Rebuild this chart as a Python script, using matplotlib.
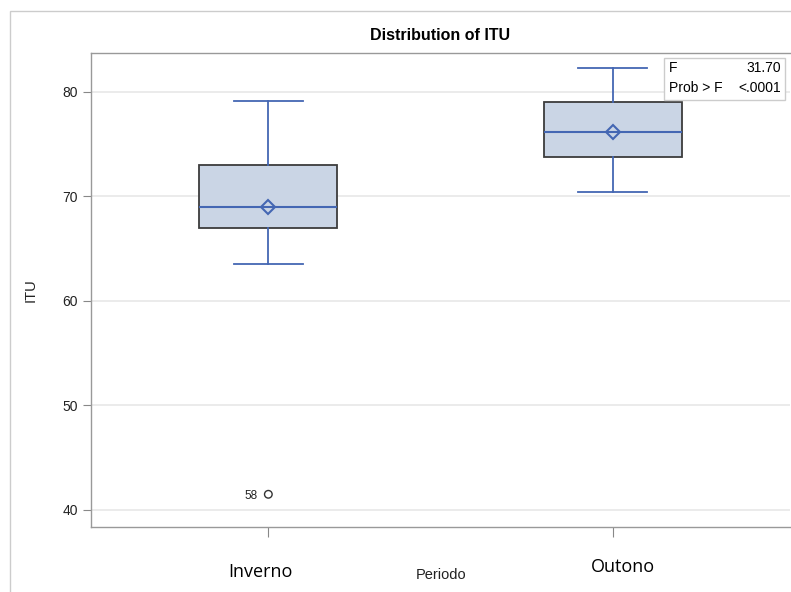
import matplotlib
matplotlib.use("Agg")
import matplotlib.pyplot as plt
from matplotlib.patches import Rectangle

plt.rcParams["font.family"] = ["Liberation Sans", "DejaVu Sans"]

categories = ["Inverno", "Outono"]
whisker_low = [63.5, 70.4]
q1 = [67.0, 73.8]
median = [69.0, 76.2]
mean = [69.0, 76.2]
q3 = [73.0, 79.05]
whisker_high = [79.1, 82.3]
outlier_x = [0]
outlier_y = [41.5]
outlier_labels = ["58"]
yticks = [40, 50, 60, 70, 80]

W, H = 791, 592
fig = plt.figure(figsize=(W/100, H/100), dpi=100)
ax = fig.add_axes([91/W, 1-527/H, (790-91)/W, (527-53)/H])

blue = "#4467b3"
fill = "#cad5e5"
edge = "#3c3c3c"
bw = 0.4
cw = 0.2

stats = []
for i in range(len(categories)):
    stats.append(dict(med=median[i], q1=q1[i], q3=q3[i], whislo=whisker_low[i],
                      whishi=whisker_high[i], mean=mean[i], fliers=[], label=categories[i]))
ax.bxp(stats, positions=range(len(categories)), widths=bw, patch_artist=True,
       showmeans=True, showfliers=False,
       boxprops=dict(facecolor=fill, edgecolor=edge, linewidth=1.3),
       medianprops=dict(color=blue, linewidth=1.5),
       whiskerprops=dict(color=blue, linewidth=1.3),
       capprops=dict(color=blue, linewidth=1.3),
       capwidths=cw,
       meanprops=dict(marker="D", markerfacecolor="none", markeredgecolor=blue,
                      markersize=7, markeredgewidth=1.5),
       zorder=3)

ax.scatter(outlier_x, outlier_y, s=30, facecolors="none", edgecolors="#333333",
           linewidths=1.0, zorder=4)
for x, y, lab in zip(outlier_x, outlier_y, outlier_labels):
    ax.text(x - 0.03, y, lab, ha="right", va="center_baseline", fontsize=8.5, color="#222222")

ax.set_xlim(-0.515, 1.515)
ax.set_ylim(38.37, 83.73)
ax.set_yticks(yticks)
ax.set_yticklabels([str(t) for t in yticks], fontsize=10)
ax.set_xticks(range(len(categories)))
ax.set_xticklabels([])
ax.tick_params(axis="both", colors="#888888", labelcolor="#222222", length=6)
ax.tick_params(axis="x", length=7)
ax.yaxis.grid(True, color="#e8e8e8", linewidth=1.2, zorder=0)
ax.set_axisbelow(True)
for s in ax.spines.values():
    s.set_color("#999999")
    s.set_linewidth(1.0)
ax.spines["right"].set_visible(False)

ax.set_ylabel("ITU", fontsize=10.5, color="#222222", labelpad=18)
ax.set_title("Distribution of ITU", fontsize=11.5, fontweight="bold", pad=9)

# category labels
fig.text(260/W, 1-572/H, categories[0], ha="center", va="center", fontsize=13,
         family="Open Sans")
fig.text(623/W, 1-567/H, categories[1], ha="center", va="center", fontsize=13,
         family="Open Sans")
fig.text(441/W, 1-575/H, "Periodo", ha="center", va="center", fontsize=10.5, color="#222222")

# inset stat box
x0, y0, x1, y1 = 664, 58, 785, 100
fig.patches.append(Rectangle((x0/W, 1-y1/H), (x1-x0)/W, (y1-y0)/H, transform=fig.transFigure,
                             facecolor="white", edgecolor="#cccccc", linewidth=1.0, zorder=5))
fig.text(669/W, 1-68/H, "F", ha="left", va="center", fontsize=10, zorder=6)
fig.text(781/W, 1-68/H, "31.70", ha="right", va="center", fontsize=10, zorder=6)
fig.text(669/W, 1-88/H, "Prob > F", ha="left", va="center", fontsize=10, zorder=6)
fig.text(781/W, 1-88/H, "<.0001", ha="right", va="center", fontsize=10, zorder=6)

# outer frame
fig.patches.append(Rectangle((10/W, -0.1), 1.1, 1-11/H+0.1, transform=fig.transFigure,
                             facecolor="none", edgecolor="#cccccc", linewidth=1.0, zorder=0))

fig.savefig("out.png", dpi=100)
